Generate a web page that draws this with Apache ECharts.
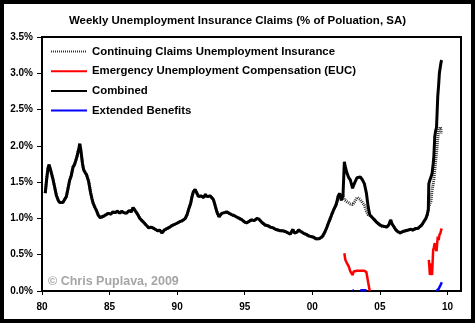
<!DOCTYPE html>
<html>
<head>
<meta charset="utf-8">
<script src="https://cdn.jsdelivr.net/npm/echarts@6/dist/echarts.min.js"></script>
<style>
  html, body { margin: 0; padding: 0; background: #fff; }
  #chart { width: 475px; height: 323px; }
</style>
</head>
<body>
<div id="chart"></div>
<script>
// Weekly claims as % of population (seasonally adjusted), decimal years
const years = [
  1980.24,1980.35,1980.45,1980.52,1980.62,1980.80,1980.95,1981.06,1981.20,1981.30,
  1981.40,1981.55,1981.70,1981.80,1981.90,1982.05,1982.15,1982.30,1982.40,1982.47,
  1982.60,1982.67,1982.75,1982.79,1982.85,1982.90,1983.00,1983.08,1983.20,1983.30,
  1983.45,1983.60,1983.70,1983.78,1983.95,1984.05,1984.15,1984.30,1984.40,1984.55,
  1984.65,1984.90,1985.10,1985.25,1985.40,1985.60,1985.75,1985.90,1986.05,1986.25,
  1986.45,1986.60,1986.74,1986.85,1986.99,1987.10,1987.23,1987.40,1987.60,1987.75,
  1987.90,1988.05,1988.20,1988.37,1988.55,1988.70,1988.87,1989.05,1989.24,1989.45,
  1989.60,1989.73,1989.95,1990.20,1990.40,1990.60,1990.75,1990.84,1991.00,1991.10,
  1991.20,1991.33,1991.45,1991.58,1991.75,1991.95,1992.10,1992.20,1992.32,1992.45,
  1992.57,1992.68,1992.76,1992.85,1992.94,1993.10,1993.30,1993.50,1993.67,1993.85,
  1994.05,1994.20,1994.40,1994.60,1994.80,1995.00,1995.16,1995.30,1995.50,1995.70,
  1995.90,1996.05,1996.15,1996.30,1996.50,1996.70,1996.90,1997.10,1997.26,1997.45,
  1997.63,1997.80,1998.00,1998.20,1998.37,1998.50,1998.57,1998.65,1998.74,1998.85,
  1998.99,1999.15,1999.36,1999.55,1999.73,1999.90,2000.10,2000.25,2000.35,2000.50,
  2000.60,2000.75,2000.84,2000.95,2001.09,2001.20,2001.33,2001.45,2001.58,2001.75,
  2001.85,2001.90,2002.02,2002.15,2002.27,2002.33,2002.37,2002.44,2002.57,2002.70,
  2002.81,2002.98,2003.06,2003.18,2003.30,2003.43,2003.55,2003.68,2003.85,2004.00,
  2004.13,2004.25,2004.40,2004.50,2004.65,2004.80,2005.00,2005.16,2005.35,2005.50,
  2005.65,2005.80,2005.88,2005.95,2006.15,2006.30,2006.50,2006.70,2006.90,2007.10,
  2007.26,2007.45,2007.63,2007.80,2007.93,2008.10,2008.25,2008.40,2008.50,2008.58,
  2008.62,2008.70,2008.78,2008.86,2008.94,2008.99,2009.06,2009.12,2009.19,2009.28,
  2009.35,2009.40,2009.48,2009.53,2009.58
];

const combined = [
  1.35,1.55,1.70,1.74,1.68,1.55,1.42,1.32,1.25,1.22,
  1.24,1.22,1.27,1.30,1.39,1.53,1.58,1.71,1.74,1.78,
  1.86,1.92,1.98,2.03,1.97,1.90,1.75,1.67,1.63,1.60,
  1.51,1.35,1.27,1.21,1.14,1.10,1.05,1.01,1.00,1.03,
  1.02,1.07,1.06,1.09,1.08,1.10,1.07,1.10,1.08,1.07,
  1.11,1.09,1.15,1.12,1.08,1.05,1.00,0.97,0.93,0.90,
  0.87,0.88,0.87,0.85,0.83,0.84,0.80,0.84,0.86,0.88,
  0.90,0.92,0.93,0.955,0.97,1.00,1.06,1.12,1.21,1.30,
  1.37,1.40,1.35,1.30,1.31,1.29,1.33,1.30,1.32,1.31,
  1.30,1.26,1.21,1.15,1.09,1.02,1.07,1.08,1.09,1.07,
  1.05,1.04,1.02,1.00,0.98,0.95,0.94,0.96,0.98,0.97,
  1.00,0.99,0.98,0.94,0.91,0.90,0.88,0.87,0.85,0.84,
  0.83,0.83,0.82,0.80,0.785,0.80,0.85,0.80,0.785,0.81,
  0.84,0.82,0.795,0.78,0.76,0.75,0.74,0.72,0.70,0.72,
  0.74,0.75,0.77,0.82,0.885,0.94,1.00,1.06,1.12,1.185,
  1.25,1.30,1.345,1.25,1.32,1.30,1.78,1.71,1.62,1.56,
  1.53,1.415,1.46,1.51,1.56,1.585,1.57,1.54,1.48,1.35,
  1.16,1.05,1.02,1.00,0.97,0.94,0.91,0.895,0.89,0.88,
  0.91,0.98,0.93,0.91,0.85,0.82,0.80,0.82,0.83,0.84,
  0.85,0.84,0.86,0.86,0.885,0.91,0.955,1.00,1.05,1.12,
  1.48,1.53,1.57,1.62,1.75,1.85,2.13,2.20,2.26,2.68,
  2.85,3.00,3.10,3.16,3.18
];

const continuing = [
  1.35,1.55,1.70,1.74,1.68,1.55,1.42,1.32,1.25,1.22,
  1.24,1.22,1.27,1.30,1.39,1.53,1.58,1.71,1.74,1.78,
  1.86,1.92,1.98,2.03,1.97,1.90,1.75,1.67,1.63,1.60,
  1.51,1.35,1.27,1.21,1.14,1.10,1.05,1.01,1.00,1.03,
  1.02,1.07,1.06,1.09,1.08,1.10,1.07,1.10,1.08,1.07,
  1.11,1.09,1.15,1.12,1.08,1.05,1.00,0.97,0.93,0.90,
  0.87,0.88,0.87,0.85,0.83,0.84,0.80,0.84,0.86,0.88,
  0.90,0.92,0.93,0.955,0.97,1.00,1.06,1.12,1.21,1.30,
  1.37,1.40,1.35,1.30,1.31,1.29,1.33,1.30,1.32,1.31,
  1.30,1.26,1.21,1.15,1.09,1.02,1.07,1.08,1.09,1.07,
  1.05,1.04,1.02,1.00,0.98,0.95,0.94,0.96,0.98,0.97,
  1.00,0.99,0.98,0.94,0.91,0.90,0.88,0.87,0.85,0.84,
  0.83,0.83,0.82,0.80,0.785,0.80,0.85,0.80,0.785,0.81,
  0.84,0.82,0.795,0.78,0.76,0.75,0.74,0.72,0.70,0.72,
  0.74,0.75,0.77,0.82,0.885,0.94,1.00,1.06,1.12,1.185,
  1.25,1.30,1.345,1.25,1.32,1.30,1.26,1.27,1.23,1.21,
  1.20,1.19,1.20,1.24,1.29,1.29,1.26,1.24,1.18,1.10,
  1.05,1.05,1.02,1.00,0.97,0.94,0.91,0.895,0.89,0.88,
  0.91,0.98,0.93,0.91,0.85,0.82,0.80,0.82,0.83,0.84,
  0.85,0.84,0.86,0.86,0.885,0.91,0.955,1.00,1.05,1.12,
  1.16,1.20,1.24,1.39,1.47,1.53,1.66,1.78,1.90,2.10,
  2.22,2.24,2.26,2.20,2.17
];

// Emergency Unemployment Compensation: two programmes (null breaks the line)
const eucYears = [
  2002.37,2002.44,2002.57,2002.70,2002.81,2002.98,2003.06,2003.18,2003.30,2003.43,
  2003.55,2003.68,2003.85,2004.00,2004.13,2004.25,2006.00,
  2008.62,2008.70,2008.78,2008.86,2008.94,2008.99,2009.06,2009.12,2009.19,2009.28,
  2009.35,2009.40,2009.48,2009.53,2009.58
];
const eucValues = [
  0.52,0.43,0.38,0.335,0.27,0.22,0.27,0.28,0.28,0.29,
  0.28,0.28,0.28,0.26,0.12,0.00,null,
  0.43,0.22,0.38,0.22,0.565,0.60,0.66,0.58,0.55,0.75,
  0.70,0.77,0.80,0.84,0.86
];

// Extended Benefits
const ebYears = [2002.98,2003.06,2003.30,2003.55,2003.68,2003.85,2004.00,2006.00,
  2009.19,2009.28,2009.35,2009.40,2009.48,2009.53,2009.58];
const ebValues = [0.01,0.01,null,0.01,0.01,0.01,0.01,null,
  0.00,0.01,0.03,0.04,0.08,0.10,0.12];

const yTicks = { min: 0, max: 3.5, step: 0.5 };
const xTicks = { min: 1980, max: 2011, step: 5 };

const pair = (xs, vs) => xs.map((x, i) => [x, vs[i]]);
const FONT = 'Liberation Sans, Arial, sans-serif';

const chart = echarts.init(document.getElementById('chart'), null, { renderer: 'canvas' });
chart.setOption({
  animation: false,
  backgroundColor: '#fff',
  title: {
    text: 'Weekly Unemployment Insurance Claims (% of Poluation, SA)',
    left: 'center',
    top: 10,
    textStyle: { fontFamily: FONT, fontWeight: 'bold', fontSize: 11.5, color: '#000' }
  },
  legend: {
    orient: 'vertical',
    left: 50,
    top: 46,
    padding: 0,
    itemWidth: 36,
    itemHeight: 12,
    itemGap: 8.7,
    itemStyle: { opacity: 0 },
    textStyle: { fontFamily: FONT, fontWeight: 'bold', fontSize: 11.4, color: '#000' },
    data: [
      'Continuing Claims Unemployment Insurance',
      'Emergency Unemployment Compensation (EUC)',
      'Combined',
      'Extended Benefits'
    ]
  },
  grid: {
    left: 42, top: 37, width: 419, height: 254,
    show: true, borderColor: '#000', borderWidth: 2, containLabel: false
  },
  xAxis: {
    type: 'value',
    min: xTicks.min, max: xTicks.max, interval: xTicks.step,
    axisLine: { show: true, lineStyle: { color: '#000', width: 2 } },
    axisTick: { show: true, length: 4, lineStyle: { color: '#000', width: 1 } },
    splitLine: { show: false },
    axisLabel: {
      margin: 11, showMaxLabel: false,
      fontFamily: FONT, fontWeight: 'bold', fontSize: 10, color: '#000',
      formatter: v => String(v % 100).padStart(2, '0')
    }
  },
  yAxis: {
    type: 'value',
    min: yTicks.min, max: yTicks.max, interval: yTicks.step,
    axisLine: { show: true, lineStyle: { color: '#000', width: 2 } },
    axisTick: { show: true, length: 5, lineStyle: { color: '#000', width: 1 } },
    splitLine: { show: false },
    axisLabel: {
      margin: 9,
      fontFamily: FONT, fontWeight: 'bold', fontSize: 10, color: '#000',
      formatter: v => v.toFixed(1) + '%'
    }
  },
  series: [
    {
      name: 'Continuing Claims Unemployment Insurance',
      type: 'line', symbol: 'none', z: 2,
      lineStyle: { color: '#333', width: 3, type: [1, 1] },
      data: pair(years, continuing)
    },
    {
      name: 'Emergency Unemployment Compensation (EUC)',
      type: 'line', symbol: 'none', z: 4, connectNulls: false,
      lineStyle: { color: '#ff0000', width: 2.5 },
      data: pair(eucYears, eucValues)
    },
    {
      name: 'Combined',
      type: 'line', symbol: 'none', z: 3,
      lineStyle: { color: '#000', width: 3 },
      data: pair(years, combined)
    },
    {
      name: 'Extended Benefits',
      type: 'line', symbol: 'none', z: 5, connectNulls: false,
      lineStyle: { color: '#0000ff', width: 2.5 },
      data: pair(ebYears, ebValues)
    }
  ],
  graphic: [
    {
      type: 'rect', silent: true, z: 100,
      shape: { x: 2, y: 2, width: 471, height: 319 },
      style: { fill: 'none', stroke: '#000', lineWidth: 4 }
    },
    {
      type: 'text', left: 48, top: 275, z: 50,
      style: {
        text: '\u00a9 Chris Puplava, 2009',
        font: 'bold 12.5px ' + FONT,
        fill: '#a6a6a6'
      }
    }
  ]
});
</script>
</body>
</html>
